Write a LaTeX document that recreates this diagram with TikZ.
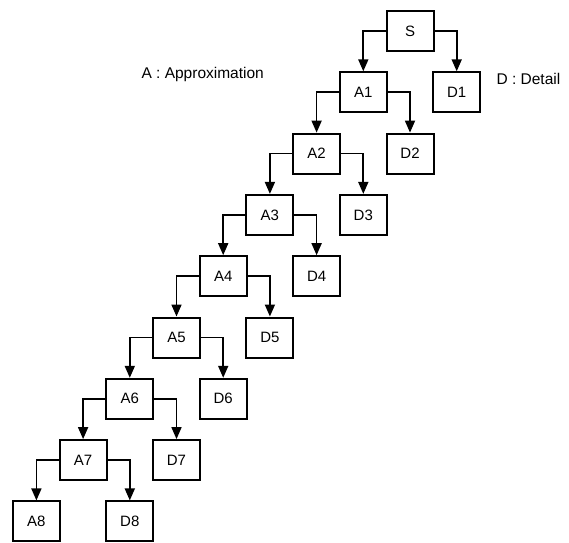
\documentclass[tikz,border=0pt]{standalone}
\usepackage{fontspec}
\setmainfont{Liberation Sans}
\usetikzlibrary{arrows.meta}

\tikzset{
	bloc/.style={draw,line width=2pt,minimum width=47pt,minimum height=40pt,inner sep=0pt,font=\fontsize{15}{17}\selectfont},
	fleche/.style={line width=1.7pt,-{Triangle[length=12pt,width=10pt]}},
	legende/.style={font=\fontsize{15.5}{18}\selectfont,anchor=west}
}

\begin{document}
\begin{tikzpicture}[x=1pt,y=-1pt] % arbre de décomposition en ondelettes

\useasboundingbox (0,0) rectangle (569,542);

\node[bloc] (A0) at (410,31) {S};

\foreach \k in {1,...,8} % niveaux A et D
{
	\node[bloc] (A\k) at ({410-46.7*\k},{31+61.3*\k}) {A\k};
	\node[bloc] (D\k) at ({503.4-46.7*\k},{31+61.3*\k}) {D\k};
}

\foreach \k [count=\j from 0] in {1,...,8} % flèches
{
	\draw[fleche] (A\j.west) -| (A\k.north);
	\draw[fleche] (A\j.east) -| (D\k.north);
}

\node[legende] (la) at (138,74) {A : Approximation};
\node[legende] (ld) at (493,79) {D : Detail};

\end{tikzpicture}
\end{document}
